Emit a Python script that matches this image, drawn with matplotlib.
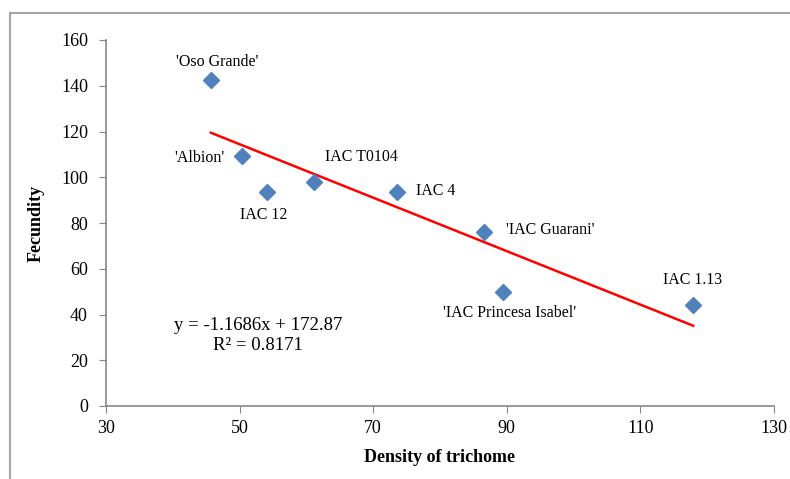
import matplotlib
matplotlib.use('Agg')
import matplotlib.pyplot as plt
import numpy as np
from matplotlib.patches import Rectangle

# Cultivars: density of trichome vs fecundity
names = ["'Oso Grande'", "'Albion'", 'IAC 12', 'IAC T0104', 'IAC 4',
         "'IAC Guarani'", "'IAC Princesa Isabel'", 'IAC 1.13']
density = [45.7, 50.4, 54.1, 61.1, 73.6, 86.6, 89.4, 117.9]
fecundity = [142.3, 109.2, 93.7, 97.8, 93.7, 76.1, 49.9, 44.0]
# label offsets in pixels (dx, dy)
offsets = [(6, 18), (-43, -2), (-3, -23), (48, 25), (38, 1), (66, 2), (7, -21), (-1, 25)]

slope = -1.1686
intercept = 172.87
r2 = 0.8171

plt.rcParams['font.family'] = 'Liberation Serif'

fig = plt.figure(figsize=(7.9, 4.79), dpi=100)
# outer chart frame (cropped at right and bottom)
fig.patches.append(Rectangle((10 / 790, -0.1), 1.2, 1 - 13 / 479 + 0.1,
                             transform=fig.transFigure, fill=False,
                             edgecolor='#a6a6a6', lw=1.5))

ax = fig.add_axes([106 / 790, 73 / 479, 668 / 790, 366 / 479])

ax.plot(density, fecundity, 'D', color='#4f81bd', ms=8, zorder=3)

xs = np.array([min(density), max(density)])
ax.plot(xs, slope * xs + intercept, color='red', lw=1.8, zorder=2)

for name, x, y, (dx, dy) in zip(names, density, fecundity, offsets):
    ax.annotate(name, (x, y), xytext=(dx, dy), textcoords='offset pixels',
                ha='center', va='center', fontsize=11.5)

ax.text(258 / 790, 1 - 325 / 479, 'y = %.4fx + %.2f' % (slope, intercept),
        transform=fig.transFigure, fontsize=13.5, ha='center', va='center')
ax.text(258 / 790, 1 - 345 / 479, 'R² = %.4f' % r2,
        transform=fig.transFigure, fontsize=13.5, ha='center', va='center')

ax.set_xlim(30, 130)
ax.set_ylim(0, 160)
ax.set_xticks(range(30, 131, 20))
ax.set_yticks(range(0, 161, 20))

for s in ['top', 'right']:
    ax.spines[s].set_visible(False)
for s in ['left', 'bottom']:
    ax.spines[s].set_color('#868686')
    ax.spines[s].set_linewidth(1.2)
ax.tick_params(direction='out', length=5, color='#868686', labelsize=13)
ax.tick_params(axis='y', pad=8)
ax.tick_params(axis='x', pad=5)

ax.set_xlabel('Density of trichome', fontsize=13, fontweight='bold', labelpad=9)
ax.set_ylabel('Fecundity', fontsize=13, fontweight='bold', labelpad=12)

fig.savefig('out.png', dpi=100)
